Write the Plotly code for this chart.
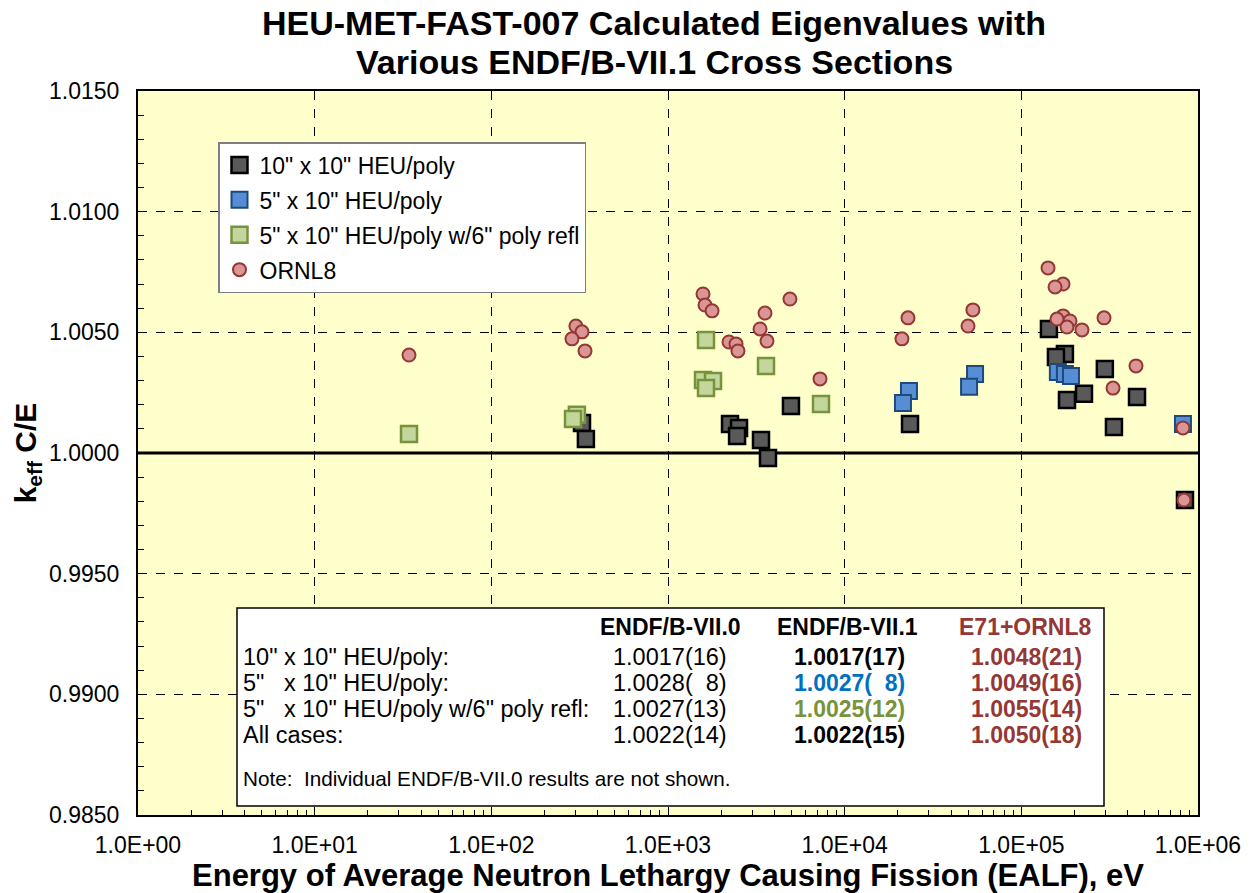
import plotly.graph_objects as go

# --- data: EALF (eV) and calculated/expected k-eff ---
heu10x10_ealf = [326, 343, 2244, 2524, 2460, 3360, 3680, 4966, 23440, 143300,
                 176500, 157000, 297000, 226300, 181300, 451600, 334400, 844000]
heu10x10_keff = [1.00124, 1.00058, 1.00120, 1.00104, 1.00070, 1.00054, 0.99979,
                 1.00195, 1.00120, 1.00514, 1.00410, 1.00398, 1.00348, 1.00245,
                 1.00220, 1.00232, 1.00108, 0.99805]

heu5x10_ealf = [23120, 21380, 54700, 50600, 161000, 176500, 191000, 822000]
heu5x10_keff = [1.00257, 1.00207, 1.00327, 1.00274, 1.00336, 1.00327, 1.00319, 1.00120]

heu5x10refl_ealf = [34.2, 305, 290, 1641, 1578, 1798, 1641, 3587, 7345]
heu5x10refl_keff = [1.00079, 1.00158, 1.00141, 1.00468, 1.00303, 1.00298,
                    1.00269, 1.00361, 1.00203]

ornl8_ealf = [34.2, 301, 326, 286, 339, 1578, 1620, 1776, 4900, 3540, 3319, 3633,
              2215, 2427, 2489, 7250, 22820, 21100, 53200, 49900, 141600, 172200,
              155200, 172200, 188500, 159100, 181300, 220400, 293800, 445700,
              330400, 822000, 833000]
ornl8_keff = [1.00406, 1.00526, 1.00502, 1.00473, 1.00423, 1.00659, 1.00613,
              1.00589, 1.00638, 1.00580, 1.00514, 1.00464, 1.00460, 1.00452,
              1.00423, 1.00307, 1.00560, 1.00473, 1.00593, 1.00526, 1.00767,
              1.00700, 1.00688, 1.00568, 1.00547, 1.00555, 1.00522, 1.00510,
              1.00560, 1.00361, 1.00269, 1.00104, 0.99805]

series_names = ['10" x 10" HEU/poly', '5" x 10" HEU/poly',
                '5" x 10" HEU/poly w/6" poly refl', 'ORNL8']

x_tick_vals = [1, 10, 100, 1000, 10000, 100000, 1000000]
x_tick_text = ["1.0E+00", "1.0E+01", "1.0E+02", "1.0E+03", "1.0E+04", "1.0E+05", "1.0E+06"]
y_tick_vals = [0.985, 0.990, 0.995, 1.000, 1.005, 1.010, 1.015]
y_tick_text = ["0.9850", "0.9900", "0.9950", "1.0000", "1.0050", "1.0100", "1.0150"]

title_lines = ["HEU-MET-FAST-007 Calculated Eigenvalues with",
               "Various ENDF/B-VII.1 Cross Sections"]

# summary table
table_rows = ['10" x 10" HEU/poly:',
              '5"\u00a0\u00a0\u00a0x 10" HEU/poly:',
              '5"\u00a0\u00a0\u00a0x 10" HEU/poly w/6" poly refl:',
              'All cases:']
table_headers = ["ENDF/B-VII.0", "ENDF/B-VII.1", "E71+ORNL8"]
col_e70 = ["1.0017(16)", "1.0028(\u00a0\u00a08)", "1.0027(13)", "1.0022(14)"]
col_e71 = ["1.0017(17)", "1.0027(\u00a0\u00a08)", "1.0025(12)", "1.0022(15)"]
col_orn = ["1.0048(21)", "1.0049(16)", "1.0055(14)", "1.0050(18)"]
note_text = "Note:\u00a0\u00a0Individual ENDF/B-VII.0 results are not shown."

FONT = "Liberation Sans, Arial, sans-serif"
RED = "#953735"
BLUE_TXT = "#0070C0"
GREEN_TXT = "#77933C"

# plot-area pixel geometry, used to place the boxed table and title in paper units
L, R, T, B = 138, 1198, 91, 815
def px(x):
    return (x - L) / (R - L)
def py(y):
    return (B - y) / (B - T)

fig = go.Figure()

styles = [
    dict(symbol="square", size=16, color="#595959", line=dict(color="black", width=2.5)),
    dict(symbol="square", size=16, color="#558ED5", line=dict(color="#1F497D", width=2)),
    dict(symbol="square", size=16, color="#C3D69B", line=dict(color="#77933C", width=2.5)),
    dict(symbol="circle", size=13, color="#D99694", line=dict(color=RED, width=2)),
]
series = [(heu10x10_ealf, heu10x10_keff), (heu5x10_ealf, heu5x10_keff),
          (heu5x10refl_ealf, heu5x10refl_keff), (ornl8_ealf, ornl8_keff)]
for i, ((xs, ys), name, st) in enumerate(zip(series, series_names, styles)):
    fig.add_trace(go.Scatter(x=xs, y=ys, mode="markers", name=name,
                             legendgroup=f"g{i}", marker=st))

# reference line at C/E = 1
fig.add_shape(type="line", xref="paper", yref="y", x0=0, x1=1, y0=1.0, y1=1.0,
              line=dict(color="black", width=3), layer="below")

# table box
fig.add_shape(type="rect", xref="paper", yref="paper",
              x0=px(237), x1=px(1104), y0=py(806), y1=py(608),
              fillcolor="white", line=dict(color="black", width=1.5), layer="above")

ann = []
# two-line chart title
for line, yy in zip(title_lines, [23, 62]):
    ann.append(dict(x=px(654), y=py(yy), text=f"<b>{line}</b>", xanchor="center",
                    font=dict(size=34, color="black")))
header_x = [670, 847, 1025]
header_col = ["black", "black", RED]
for h, hx, hc in zip(table_headers, header_x, header_col):
    ann.append(dict(x=px(hx), y=py(627), text=f"<b>{h}</b>", xanchor="center",
                    font=dict(size=23, color=hc)))
row_y = [657, 683, 709, 735]
e71_colors = ["black", BLUE_TXT, GREEN_TXT, "black"]
for r, yy in enumerate(row_y):
    ann.append(dict(x=px(241), y=py(yy), text=table_rows[r], xanchor="left",
                    font=dict(size=23.5, color="black")))
    ann.append(dict(x=px(729), y=py(yy), text=col_e70[r], xanchor="right",
                    font=dict(size=23.5, color="black")))
    ann.append(dict(x=px(907), y=py(yy), text=f"<b>{col_e71[r]}</b>", xanchor="right",
                    font=dict(size=23, color=e71_colors[r])))
    ann.append(dict(x=px(1084), y=py(yy), text=f"<b>{col_orn[r]}</b>", xanchor="right",
                    font=dict(size=23, color=RED)))
ann.append(dict(x=px(241), y=py(778), text=note_text, xanchor="left",
                font=dict(size=20.7, color="black")))
for a in ann:
    a.update(xref="paper", yref="paper", yanchor="middle", showarrow=False)

fig.update_layout(
    width=1251, height=893,
    margin=dict(l=L, r=1251 - R, t=T, b=893 - B, autoexpand=False),
    paper_bgcolor="white",
    plot_bgcolor="#FFFFCC",
    font=dict(family=FONT, color="black", size=23),
    showlegend=True,
    legend=dict(x=px(218), y=py(142), xanchor="left", yanchor="top",
                bgcolor="white", bordercolor="#7F7F7F", borderwidth=1.5,
                font=dict(size=23, family=FONT, color="black"),
                tracegroupgap=2, itemsizing="trace"),
    annotations=ann,
)

fig.update_xaxes(
    type="log", range=[0, 6], automargin=False,
    tickmode="array", tickvals=x_tick_vals, ticktext=x_tick_text,
    tickfont=dict(size=23),
    showgrid=True, gridcolor="black", griddash="dash", gridwidth=1.3,
    showline=True, linecolor="black", linewidth=2, mirror=True,
    ticks="inside", ticklen=8, tickcolor="black", tickwidth=1.3,
    minor=dict(dtick="D1", ticks="inside", ticklen=5, tickcolor="black",
               tickwidth=1.2, showgrid=False),
    zeroline=False,
    ticklabelstandoff=8,
    title=dict(text="<b>Energy of Average Neutron Lethargy Causing Fission (EALF), eV</b>",
               font=dict(size=31), standoff=10),
)
fig.update_yaxes(
    range=[0.985, 1.015], automargin=False,
    tickmode="array", tickvals=y_tick_vals, ticktext=y_tick_text,
    tickfont=dict(size=23),
    showgrid=True, gridcolor="black", griddash="dash", gridwidth=1.3,
    showline=True, linecolor="black", linewidth=2, mirror=True,
    ticks="inside", ticklen=8, tickcolor="black", tickwidth=1.3,
    minor=dict(dtick=0.001, ticks="inside", ticklen=6, tickcolor="black",
               tickwidth=1.2, showgrid=False),
    zeroline=False,
    ticklabelstandoff=12,
    title=dict(text="<b>k<sub>eff</sub> C/E</b>", font=dict(size=30), standoff=4),
)

fig.write_html("out.html")
